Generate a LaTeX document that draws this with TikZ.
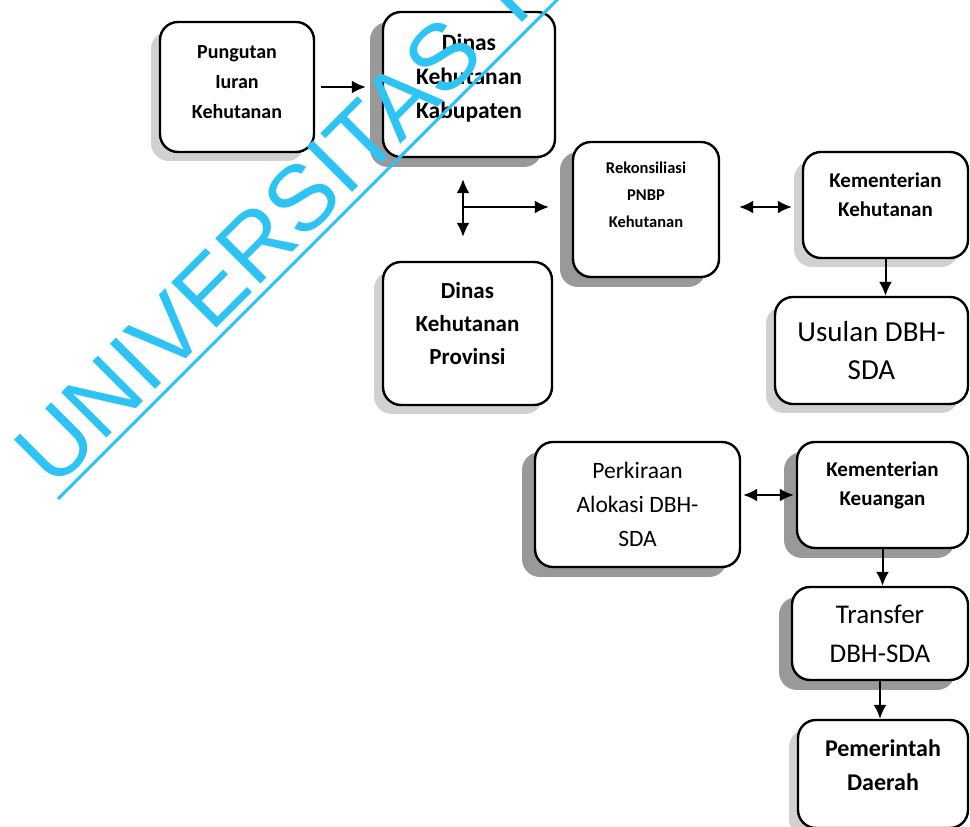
\documentclass[tikz,border=0pt]{standalone}
\usepackage{fontspec}
\setmainfont{Carlito}
\newfontfamily\wmfont{Liberation Sans}
\usetikzlibrary{arrows.meta,shadows}
\definecolor{wmcyan}{RGB}{45,196,245}

\begin{document}
\begin{tikzpicture}[
  x=1pt, y=1pt,
  box/.style={rectangle, rounded corners=18pt, draw=black, line width=2.4pt, fill=white,
              align=center, inner sep=2pt},
  heavy/.style={drop shadow={shadow xshift=-13pt, shadow yshift=-10pt, fill=black!40, opacity=1}},
  light/.style={drop shadow={shadow xshift=-9pt, shadow yshift=-9pt, fill=black!18, opacity=1}},
  arr/.style={-{Latex[length=14pt,width=13pt]}, line width=2pt},
  arrtwo/.style={{Latex[length=14pt,width=13pt]}-{Latex[length=14pt,width=13pt]}, line width=2pt},
]
\useasboundingbox (0,0) rectangle (970,827);
\clip (0,0) rectangle (970,827);
% --- left column ---
\node[box, light, minimum width=154pt, minimum height=130pt,
      font=\fontsize{20}{30}\selectfont\bfseries, text depth=10pt] (pung) at (237,740)
  {Pungutan\\Iuran\\Kehutanan};
\node[box, heavy, minimum width=172pt, minimum height=145pt,
      font=\fontsize{23.5}{34}\selectfont\bfseries, text depth=16pt] (kab) at (469,742.5)
  {Dinas\\Kehutanan\\Kabupaten};
\node[box, light, minimum width=169pt, minimum height=143pt,
      font=\fontsize{23}{33}\selectfont\bfseries, text depth=20pt] (prov) at (467.5,493.5)
  {Dinas\\Kehutanan\\Provinsi};
\coordinate (jn) at (463,620);
% --- middle ---
\node[box, heavy, minimum width=146pt, minimum height=135pt,
      font=\fontsize{16.5}{27}\selectfont\bfseries, text depth=29pt] (rek) at (646,617.5)
  {Rekonsiliasi\\PNBP\\Kehutanan};
\node[box, heavy, minimum width=205pt, minimum height=125pt,
      font=\fontsize{23.5}{34}\selectfont] (perk) at (637.5,322.5)
  {Perkiraan\\Alokasi DBH-\\SDA};
% --- right column ---
\node[box, light, minimum width=165pt, minimum height=106pt,
      font=\fontsize{21}{29}\selectfont\bfseries, text depth=20pt] (kemhut) at (885.5,622)
  {Kementerian\\Kehutanan};
\node[box, light, minimum width=193pt, minimum height=107pt,
      font=\fontsize{29}{38}\selectfont] (usulan) at (871.5,476.5)
  {Usulan DBH-\\SDA};
\node[box, heavy, minimum width=171pt, minimum height=106pt,
      font=\fontsize{21}{29}\selectfont\bfseries, text depth=22pt] (kemkeu) at (882.5,332)
  {Kementerian\\Keuangan};
\node[box, heavy, minimum width=176pt, minimum height=93pt,
      font=\fontsize{27}{39}\selectfont] (transfer) at (880,193.5)
  {Transfer\\DBH-SDA};
\node[box, light, minimum width=170pt, minimum height=108pt,
      font=\fontsize{24}{34}\selectfont\bfseries, text depth=18pt] (pem) at (883,53)
  {Pemerintah\\Daerah};
% --- flow ---
\draw[arr, shorten <=6pt, shorten >=16pt] (pung.east) -- (pung.east -| kab.west);
\draw[arrtwo, shorten <=21pt, shorten >=24pt] (kab.south -| jn) -- (prov.north -| jn);
\draw[arr, shorten >=23pt] (jn) -- (jn -| rek.west);
\draw[arrtwo, shorten <=19pt, shorten >=10pt] (jn -| rek.east) -- (jn -| kemhut.west);
\draw[arr] (kemhut.south) -- (kemhut.south |- usulan.north);
\draw[arrtwo, shorten <=2pt, shorten >=2pt] (kemkeu.west -| perk.east) -- (kemkeu.west);
\draw[arr] (kemkeu.south) -- (kemkeu.south |- transfer.north);
\draw[arr] (transfer.south) -- (transfer.south |- pem.north);
% --- watermark ---
\node[rotate=45, anchor=base west, inner sep=0pt, text=wmcyan,
      font=\wmfont\fontsize{93}{93}\selectfont] (wm) at (54,336) {UNIVERSITAS TERBUKA};
\draw[wmcyan, line width=3pt] (58,328) -- ++(45:900);
\end{tikzpicture}
\end{document}
